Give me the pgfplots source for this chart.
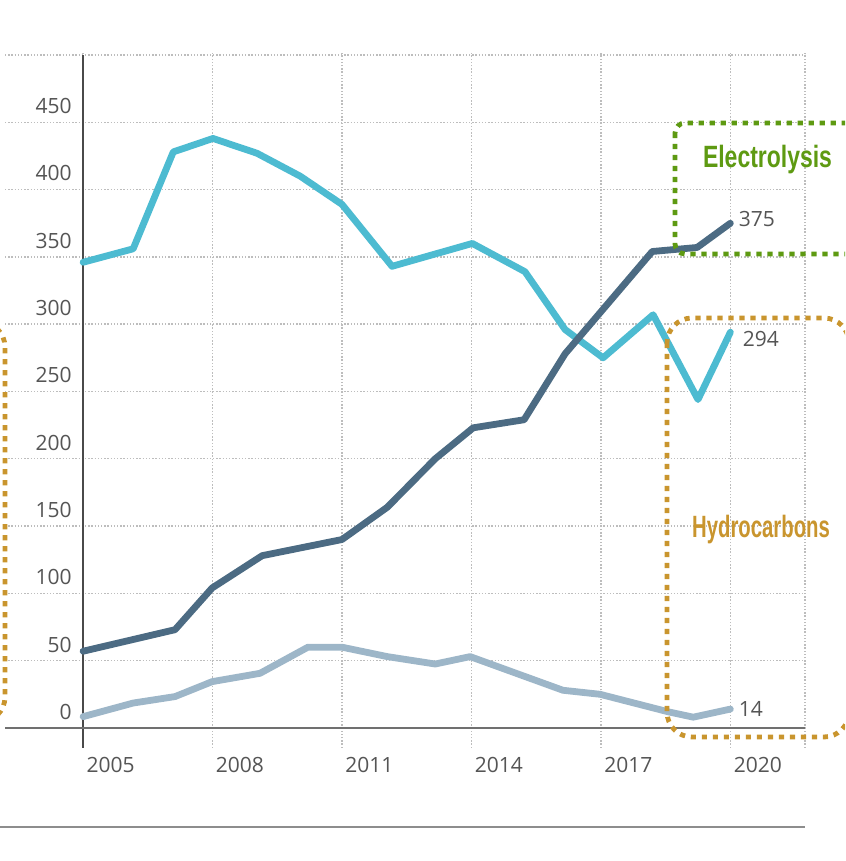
\documentclass[border=0pt]{standalone}
\usepackage{pgfplots}
\pgfplotsset{compat=1.18}
\usepackage{graphicx}
\usepackage{fontspec}
\setmainfont{Open Sans}
\newfontfamily\calloutfont{Liberation Sans}

\definecolor{darkline}{HTML}{4C6B83}
\definecolor{cyanline}{HTML}{4DBBD1}
\definecolor{lightline}{HTML}{9DB6C8}
\definecolor{tickgray}{HTML}{555555}
\definecolor{gridgray}{HTML}{BDBDBD}
\definecolor{axisgray}{HTML}{4A4A4A}
\definecolor{zerogray}{HTML}{707070}
\definecolor{elecgreen}{HTML}{5E9A12}
\definecolor{hydrogold}{HTML}{C9952E}

\tikzset{callout/.style={line width=2.4pt, dash pattern=on 2.6pt off 2.9pt}}

\begin{document}
\begin{tikzpicture}
\useasboundingbox (-2.5pt,-56.5pt) rectangle (420pt,374pt);
\begin{axis}[
  at={(0,0)}, anchor=south west,
  scale only axis, width=400pt, height=347.5pt,
  xmin=2003.19, xmax=2021.73, ymin=-14.9, ymax=501.5,
  axis line style={draw=none},
  xtick={2005,2008,2011,2014,2017,2020},
  xticklabels={2005,2008,2011,2014,2017,2020},
  ytick={0,50,...,500},
  yticklabels={0,50,100,150,200,250,300,350,400,450,{}},
  major tick length=0pt,
  grid=major,
  major grid style={gridgray, line width=0.7pt, dash pattern=on 0.7pt off 0.9pt},
  ticklabel style={font=\fontsize{10.5}{12}\selectfont, text=tickgray, inner sep=0pt},
  yticklabel style={anchor=south east, xshift=33.5pt, yshift=4pt},
  xticklabel style={anchor=north west, xshift=1.5pt, yshift=-4.5pt},
  clip=false,
]
% frame pieces: right dotted edge, vertical axis at 2005, zero line
\draw[gridgray, line width=0.7pt, dash pattern=on 0.7pt off 0.9pt]
  (axis cs:2021.73,-14.9) -- (axis cs:2021.73,501.5);
\draw[axisgray, line width=1pt] (axis cs:2005,-14.9) -- (axis cs:2005,500);
\draw[zerogray, line width=1pt] (axis cs:2003.19,0) -- (axis cs:2021.73,0);

% Hydrocarbons-based production
\addplot[cyanline, line width=3.4pt, line join=round, line cap=round] coordinates {
  (2005.00,346) (2006.16,356) (2007.09,428) (2008.01,438) (2009.03,427)
  (2010.03,410) (2011.00,389) (2012.16,343) (2014.02,360) (2015.24,339)
  (2016.17,296) (2017.05,275) (2018.21,307) (2019.25,244) (2020.00,294)
};
% Electrolysis
\addplot[darkline, line width=3.4pt, line join=round, line cap=round] coordinates {
  (2005.00,57) (2007.13,73) (2007.99,104) (2009.15,128) (2011.00,140)
  (2012.05,164) (2013.16,200) (2014.04,223) (2015.22,229) (2016.17,278)
  (2018.19,354) (2019.23,357) (2020.00,375)
};
% Other sources
\addplot[lightline, line width=3.4pt, line join=round, line cap=round] coordinates {
  (2005.00,8.4) (2006.16,18.5) (2007.13,23.3) (2007.99,34.4) (2009.10,40.6)
  (2010.21,60) (2011.00,60) (2012.05,53) (2013.16,47.5) (2013.97,53)
  (2016.12,28) (2016.98,25) (2018.56,12) (2019.14,8) (2020.00,14)
};

\node[anchor=west, inner sep=0pt, xshift=4pt, yshift=2.3pt, text=tickgray,
  font=\fontsize{10.5}{12}\selectfont] at (axis cs:2020,375) {375};
\node[anchor=west, inner sep=0pt, xshift=6pt, yshift=-3.3pt, text=tickgray,
  font=\fontsize{10.5}{12}\selectfont] at (axis cs:2020,294) {294};
\node[anchor=west, inner sep=0pt, xshift=4pt, yshift=0pt, text=tickgray,
  font=\fontsize{10.5}{12}\selectfont] at (axis cs:2020,14) {14};
\end{axis}

% callout frames and bottom rule, laid out on a half-point grid
\begin{scope}
\clip (-2.5pt,-56.5pt) rectangle (420pt,374pt);
\begin{scope}[shift={(-2.5pt,374pt)}, x=0.5pt, y=-0.5pt]
  \draw[elecgreen, callout, rounded corners=5pt]
    (675,123) rectangle (900,254);
  \draw[hydrogold, callout, rounded corners=12.5pt]
    (667,318) rectangle (849,737);
  \draw[hydrogold, callout, rounded corners=12.5pt]
    (-120,322) rectangle (5,722);
  \node[anchor=base, text=elecgreen, inner sep=0pt,
    font=\calloutfont\bfseries\fontsize{15.4}{18}\selectfont]
    at (767.5,168) {\scalebox{0.746}[1]{Electrolysis}};
  \node[anchor=base, text=hydrogold, inner sep=0pt,
    font=\calloutfont\bfseries\fontsize{15.4}{18}\selectfont]
    at (761,538) {\scalebox{0.66}[1]{Hydrocarbons}};
  \draw[zerogray!80, line width=1pt] (0,827) -- (805,827);
\end{scope}
\end{scope}
\end{tikzpicture}
\end{document}
